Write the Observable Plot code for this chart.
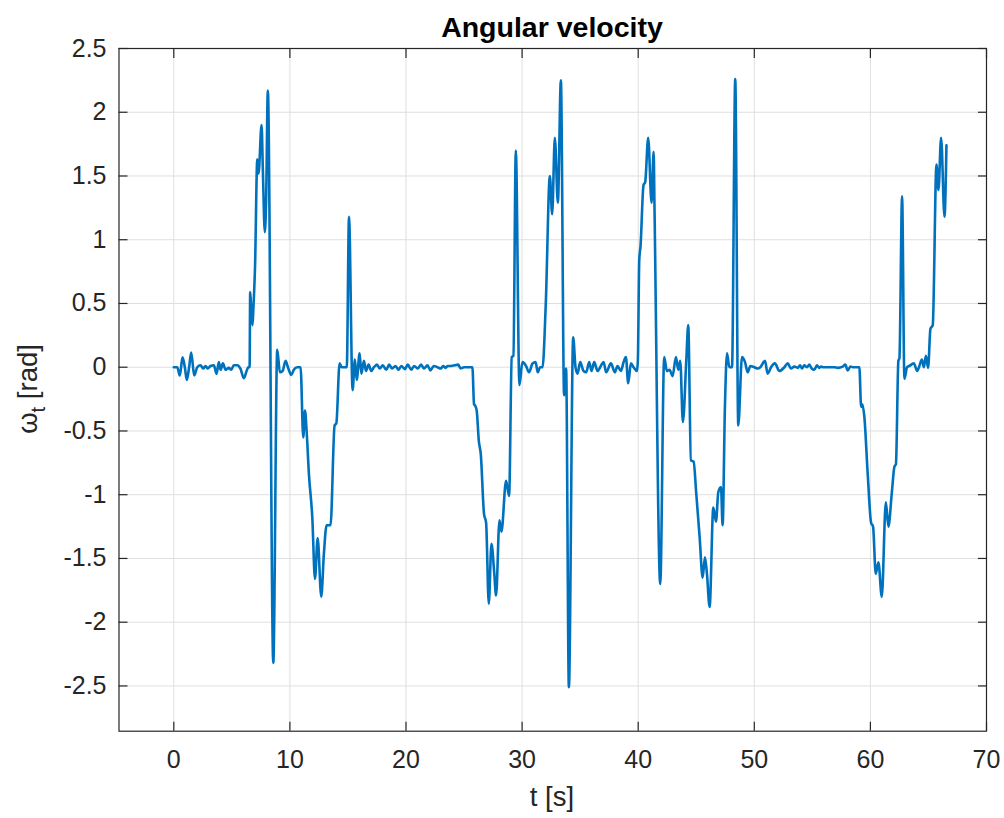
<!DOCTYPE html>
<html>
<head>
<meta charset="utf-8">
<script src="https://cdn.jsdelivr.net/npm/d3@7"></script>
<script src="https://cdn.jsdelivr.net/npm/@observablehq/plot@0.6"></script>
<style>
  body { margin: 0; background: #fff; }
  #chart { width: 1004px; height: 818px; }
</style>
</head>
<body>
<div id="chart"></div>
<script>
// ---- data ----
const time = [
  0, 0.3, 0.52, 0.75, 0.95, 1.12, 1.32, 1.5, 1.76, 2.02, 2.3, 2.53, 2.73, 2.93, 3.16, 3.45, 3.68, 3.88, 4.03, 4.23,
  4.46, 4.74, 4.95, 5.17, 5.46, 5.75, 6.03, 6.27, 6.41, 6.53, 6.58, 6.67, 6.78, 6.85, 7.0, 7.19, 7.3, 7.56, 7.67, 7.84,
  7.95, 8.1, 8.57, 8.91, 9.14, 9.37, 9.63, 9.83, 10.12, 10.34, 10.64, 10.92, 11.15, 11.3, 11.44, 11.64, 11.93, 12.16, 12.39, 12.7,
  12.93, 13.16, 13.5, 13.85, 14.0, 14.28, 14.46, 14.9, 15.09, 15.4, 15.6, 15.75, 16.01, 16.15, 16.38, 16.55, 16.78, 17.01, 17.24, 17.5,
  17.75, 18.0, 18.3, 18.55, 18.8, 19.1, 19.35, 19.6, 19.9, 20.15, 20.45, 20.7, 21.0, 21.3, 21.55, 21.85, 22.1, 22.4, 22.7, 23.0,
  23.2, 23.4, 23.6, 23.9, 24.2, 24.5, 24.7, 25.0, 25.72, 25.86, 25.95, 26.09, 26.27, 26.44, 26.72, 26.9, 27.13, 27.36, 27.59, 27.76,
  28.05, 28.22, 28.62, 28.88, 29.11, 29.25, 29.46, 29.77, 30.03, 30.34, 30.6, 30.9, 31.16, 31.35, 31.55, 31.76, 32.04, 32.39, 32.59, 32.82,
  33.08, 33.34, 33.62, 33.79, 34.03, 34.4, 34.6, 34.78, 35.0, 35.29, 35.52, 35.78, 35.98, 36.21, 36.5, 36.78, 37.02, 37.24, 37.65, 37.99,
  38.22, 38.51, 38.74, 38.94, 39.14, 39.37, 39.6, 39.89, 39.97, 40.09, 40.2, 40.46, 40.6, 40.86, 41.15, 41.33, 41.4, 41.9, 42.24, 42.47,
  42.7, 42.96, 43.25, 43.45, 43.62, 43.85, 44.14, 44.31, 44.54, 44.77, 45.0, 45.29, 45.55, 45.75, 45.92, 46.15, 46.47, 46.7, 46.9, 47.13,
  47.27, 47.47, 47.65, 47.85, 48.08, 48.36, 48.62, 48.94, 49.2, 49.43, 49.66, 50.0, 50.29, 50.52, 50.92, 51.15, 51.44, 51.78, 52.16, 52.59,
  52.88, 53.16, 53.45, 53.74, 53.94, 54.11, 54.31, 54.54, 54.74, 54.95, 55.17, 55.4, 55.6, 55.75, 55.98, 56.33, 56.9, 57.19, 57.62, 57.84,
  58.05, 58.28, 58.48, 59.05, 59.2, 59.3, 59.48, 59.77, 60.06, 60.23, 60.46, 60.69, 60.98, 61.33, 61.55, 61.84, 62.07, 62.2, 62.41, 62.5,
  62.73, 62.93, 63.16, 63.36, 63.74, 64.03, 64.22, 64.43, 64.6, 64.78, 64.97, 65.17, 65.37, 65.69, 65.86, 66.09, 66.38, 66.55
];
const omega = [
  0, 0, -0.065, 0.078, 0.0, -0.10, 0.0, 0.115, -0.065, 0.0, 0.015, -0.01, 0.01, -0.01, 0.01, 0.015, -0.052, 0.04, -0.02, 0.03,
  -0.02, -0.005, -0.02, 0.015, 0.015, -0.013, -0.086, -0.03, 0.0, 0.0, 0.59, 0.45, 0.33, 0.45, 0.8, 1.63, 1.52, 1.90, 1.55, 1.06,
  1.3, 2.17, -2.32, 0.136, -0.04, -0.03, 0.05, 0.0, -0.06, -0.02, 0.0, 0.0, -0.55, -0.34, -0.5, -0.84, -1.18, -1.66, -1.34, -1.80,
  -1.46, -1.24, -1.24, -0.457, -0.44, 0.03, 0.0, 0.0, 1.18, -0.18, 0.06, -0.10, 0.11, -0.05, 0.05, -0.03, 0.02, -0.03, 0.0, 0.02,
  -0.01, 0.015, -0.02, 0.02, -0.01, 0.01, -0.02, 0.01, -0.015, 0.02, -0.02, 0.01, -0.01, 0.02, -0.01, 0.015, -0.025, 0.01, 0.0, -0.01,
  0.01, -0.005, 0.01, 0.01, 0.015, 0.02, -0.01, 0.0, 0.0, -0.29, -0.30, -0.34, -0.575, -0.68, -1.15, -1.22, -1.855, -1.385, -1.6, -1.79,
  -1.20, -1.29, -0.89, -1.01, 0.08, 0.09, 1.70, -0.14, 0.04, 0.01, -0.04, 0.03, 0.04, -0.04, 0.0, 0.0, 0.5, 1.50, 1.20, 1.80,
  1.29, 2.25, -0.22, -0.01, -2.51, 0.235, 0.0, -0.05, 0.04, -0.03, -0.04, 0.04, -0.03, 0.04, -0.03, 0.01, 0.04, -0.04, 0.03, -0.04,
  0.01, -0.03, 0.04, 0.08, -0.125, 0.03, 0.0, -0.03, 0.05, 0.84, 0.95, 1.43, 1.45, 1.80, 1.29, 1.69, 1.28, -1.70, 0.08, -0.03,
  -0.02, -0.07, 0.08, -0.02, 0.05, -0.43, 0.05, 0.33, -0.73, -0.74, -0.99, -1.33, -1.65, -1.49, -1.62, -1.88, -1.10, -1.21, -0.98, -0.94,
  -1.24, -0.31, 0.11, 0.0, 0.0, 2.26, -0.457, 0.08, 0.04, -0.04, 0.01, 0.0, -0.01, 0.0, 0.05, -0.05, 0.0, 0.03, -0.03, 0.0,
  0.03, -0.01, 0.005, -0.005, 0.015, -0.01, 0.015, 0.0, 0.02, -0.01, -0.02, 0.015, -0.005, 0.005, 0.0, 0.0, 0.0, -0.005, 0.005, 0.02,
  -0.025, 0.005, 0.0, 0.0, -0.31, -0.29, -0.39, -0.84, -1.22, -1.25, -1.62, -1.53, -1.80, -1.06, -1.25, -0.99, -0.78, -0.76, 0.05, 0.07,
  1.34, -0.09, 0.0, 0.01, 0.03, -0.03, 0.01, 0.06, 0.0, 0.09, -0.005, 0.30, 0.33, 1.59, 1.39, 1.80, 1.18, 1.74
];
const xTicks = [0, 10, 20, 30, 40, 50, 60, 70];
const yTicks = [-2.5, -2, -1.5, -1, -0.5, 0, 0.5, 1, 1.5, 2, 2.5];
const titleText = "Angular velocity";
const xLabelText = "t [s]";
const yLabelMain = "\u03C9";
const yLabelSub = "t";
const yLabelUnit = " [rad]";

// ---- chart ----
const data = time.map((t, i) => ({t, w: omega[i]}));
const font = '"Liberation Sans", Arial, Helvetica, sans-serif';
const axisColor = "#262626";
const gridColor = "#dfdfdf";
const fmt = d => String(d);

const chart = Plot.plot({
  width: 1004,
  height: 818,
  marginLeft: 118.5,
  marginRight: 18,
  marginTop: 48,
  marginBottom: 87.3,
  style: {fontFamily: font, fontSize: "25px", color: axisColor, background: "#fff", overflow: "visible"},
  x: {domain: [-4.72, 70], label: null},
  y: {domain: [-2.855, 2.5], label: null},
  marks: [
    Plot.gridX(xTicks, {stroke: gridColor, strokeOpacity: 1, strokeWidth: 1}),
    Plot.gridY(yTicks, {stroke: gridColor, strokeOpacity: 1, strokeWidth: 1}),
    Plot.line(data, {x: "t", y: "w", stroke: "#0072BD", strokeWidth: 2.6, strokeLinejoin: "round", curve: "monotone-x"}),
    Plot.frame({stroke: axisColor, strokeWidth: 1.2}),
    // inward ticks on all four sides
    Plot.axisX(xTicks, {anchor: "bottom", tickSize: -9, fill: "none", stroke: axisColor, strokeWidth: 1.2, label: null}),
    Plot.axisX(xTicks, {anchor: "top", tickSize: -9, fill: "none", stroke: axisColor, strokeWidth: 1.2, label: null}),
    Plot.axisY(yTicks, {anchor: "left", tickSize: -9, fill: "none", stroke: axisColor, strokeWidth: 1.2, label: null}),
    Plot.axisY(yTicks, {anchor: "right", tickSize: -9, fill: "none", stroke: axisColor, strokeWidth: 1.2, label: null}),
    // tick labels
    Plot.axisX(xTicks, {anchor: "bottom", tickSize: 0, tickPadding: 19, tickFormat: fmt, fill: axisColor, fontSize: 25, label: null}),
    Plot.axisY(yTicks, {anchor: "left", tickSize: 0, tickPadding: 12.5, tickFormat: fmt, fill: axisColor, fontSize: 25, label: null})
  ]
});
document.getElementById("chart").appendChild(chart);

// title and axis labels as real SVG text
const svg = d3.select(chart);
svg.append("text")
  .attr("x", 552).attr("y", 37)
  .attr("text-anchor", "middle")
  .attr("font-family", font).attr("font-size", 28.5).attr("font-weight", "bold")
  .attr("fill", "#000")
  .text(titleText);
svg.append("text")
  .attr("x", 552).attr("y", 806)
  .attr("text-anchor", "middle")
  .attr("font-family", font).attr("font-size", 27.5)
  .attr("fill", axisColor)
  .text(xLabelText);
const yl = svg.append("text")
  .attr("transform", "translate(36.5,389) rotate(-90)")
  .attr("text-anchor", "middle")
  .attr("font-family", font).attr("font-size", 27.5)
  .attr("fill", axisColor);
yl.append("tspan").text(yLabelMain);
yl.append("tspan").attr("dy", 8).attr("font-size", 20).text(yLabelSub);
yl.append("tspan").attr("dy", -8).text(yLabelUnit);
</script>
</body>
</html>
